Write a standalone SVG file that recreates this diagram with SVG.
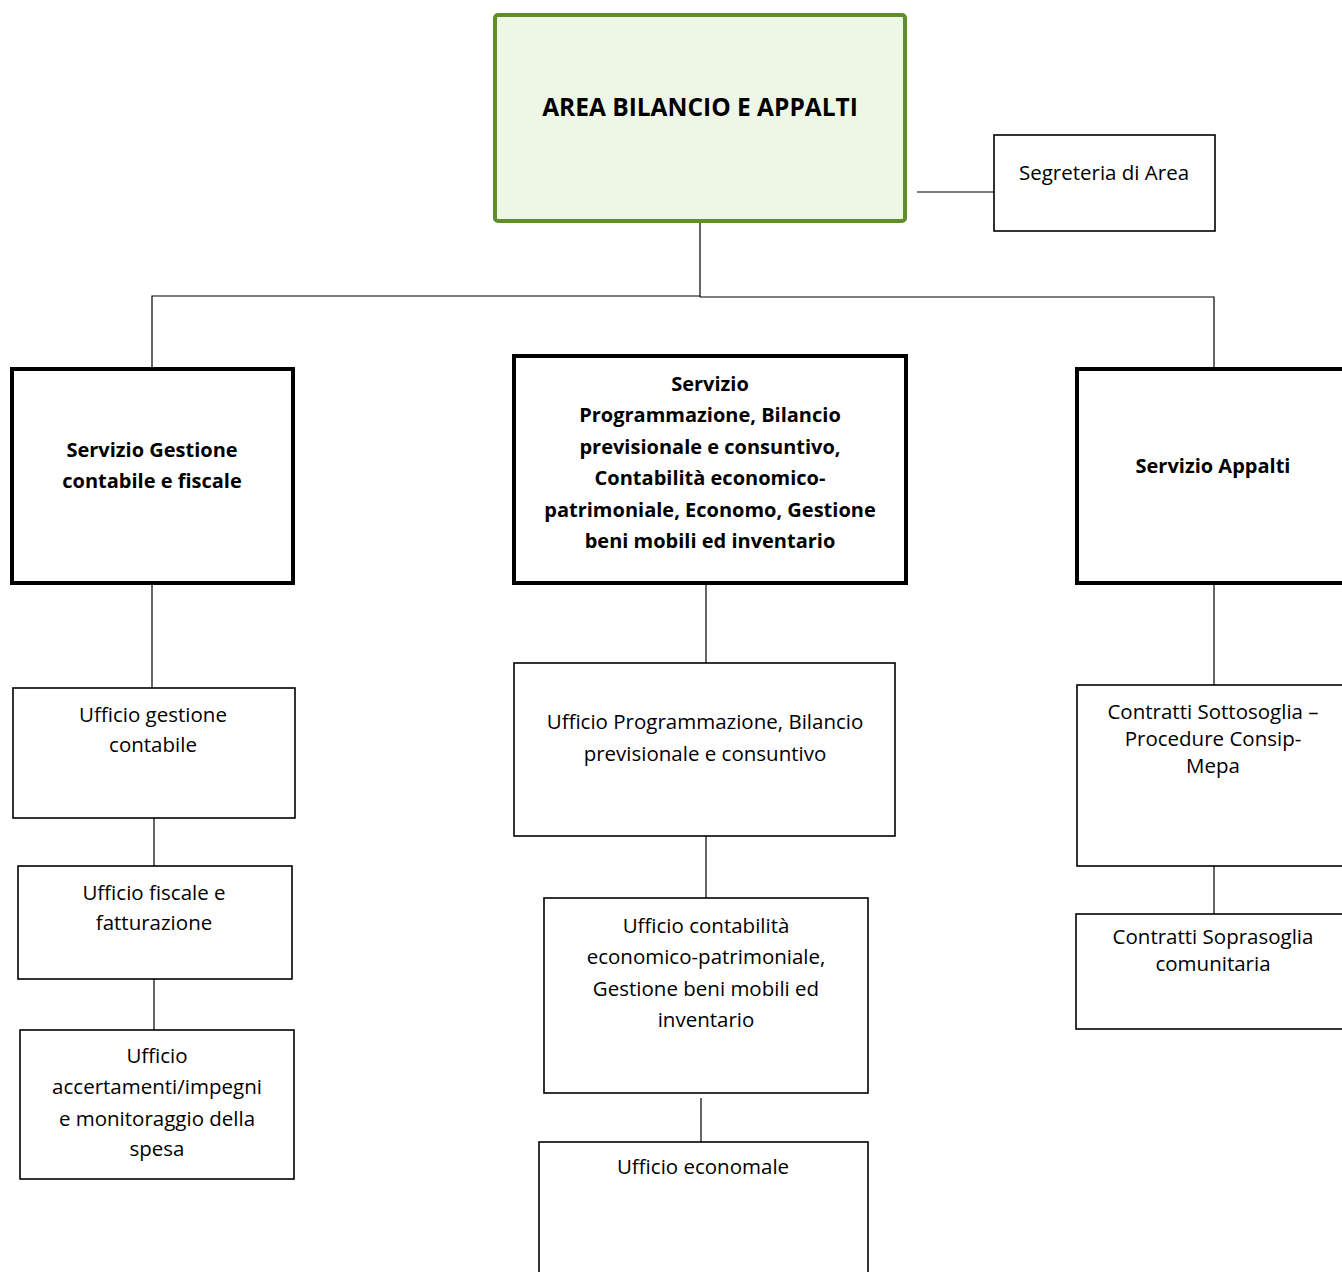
<svg xmlns="http://www.w3.org/2000/svg" width="1342" height="1272" viewBox="0 0 1342 1272">
  <style>
    .bg { fill: #ffffff; }
    .area { fill: #eef7e6; stroke: #5f8f2c; stroke-width: 4; }
    .svc { fill: #ffffff; stroke: #000000; stroke-width: 4; }
    .off { fill: #ffffff; stroke: #000000; stroke-width: 1.6; }
    .wire { fill: none; stroke: #000000; stroke-width: 1.2; }
    text { font-family: "Open Sans", "Liberation Sans", sans-serif; fill: #000000; text-anchor: middle; }
    .t { font-size: 20.5px; }
    .b { font-size: 20px; font-weight: bold; }
    .title { font-size: 24.5px; font-weight: bold; }
  </style>
  <rect class="bg" x="0" y="0" width="1342" height="1272"/>

  <!-- connectors -->
  <g id="connectors">
    <path class="wire" d="M700 223 V297"/>
    <path class="wire" d="M152 368 V296 H700 M700 297 H1214 V368"/>
    <path class="wire" d="M917 192 H994"/>
    <path class="wire" d="M152 585 V688"/>
    <path class="wire" d="M154 818 V866"/>
    <path class="wire" d="M154 979 V1030"/>
    <path class="wire" d="M706 585 V663"/>
    <path class="wire" d="M706 836 V898"/>
    <path class="wire" d="M701 1098 V1142"/>
    <path class="wire" d="M1214 585 V685"/>
    <path class="wire" d="M1214 866 V914"/>
  </g>

  <!-- top level -->
  <g id="area">
    <rect class="area" x="495" y="15" width="410" height="206" rx="3"/>
    <text class="title" x="700" y="116">AREA BILANCIO E APPALTI</text>
  </g>

  <g id="segreteria">
    <rect class="off" x="994" y="135" width="221" height="96"/>
    <text class="t" x="1104" y="180">Segreteria di Area</text>
  </g>

  <!-- services -->
  <g id="svc-gestione">
    <rect class="svc" x="12" y="369" width="281" height="214"/>
    <text class="b" x="152" y="457">Servizio Gestione</text>
    <text class="b" x="152" y="488">contabile e fiscale</text>
  </g>

  <g id="svc-programmazione">
    <rect class="svc" x="514" y="356" width="392" height="227"/>
    <text class="b" x="710" y="391">Servizio</text>
    <text class="b" x="710" y="422">Programmazione, Bilancio</text>
    <text class="b" x="710" y="454">previsionale e consuntivo,</text>
    <text class="b" x="710" y="485">Contabilità economico-</text>
    <text class="b" x="710" y="517">patrimoniale, Economo, Gestione</text>
    <text class="b" x="710" y="548">beni mobili ed inventario</text>
  </g>

  <g id="svc-appalti">
    <rect class="svc" x="1077" y="369" width="280" height="214"/>
    <text class="b" x="1213" y="473">Servizio Appalti</text>
  </g>

  <!-- offices: left column -->
  <g id="uff-gestione-contabile">
    <rect class="off" x="13" y="688" width="282" height="130"/>
    <text class="t" x="153" y="722">Ufficio gestione</text>
    <text class="t" x="153" y="752">contabile</text>
  </g>

  <g id="uff-fiscale">
    <rect class="off" x="18" y="866" width="274" height="113"/>
    <text class="t" x="154" y="900">Ufficio fiscale e</text>
    <text class="t" x="154" y="930">fatturazione</text>
  </g>

  <g id="uff-accertamenti">
    <rect class="off" x="20" y="1030" width="274" height="149"/>
    <text class="t" x="157" y="1063">Ufficio</text>
    <text class="t" x="157" y="1094">accertamenti/impegni</text>
    <text class="t" x="157" y="1126">e monitoraggio della</text>
    <text class="t" x="157" y="1156">spesa</text>
  </g>

  <!-- offices: middle column -->
  <g id="uff-programmazione">
    <rect class="off" x="514" y="663" width="381" height="173"/>
    <text class="t" x="705" y="729">Ufficio Programmazione, Bilancio</text>
    <text class="t" x="705" y="761">previsionale e consuntivo</text>
  </g>

  <g id="uff-contabilita">
    <rect class="off" x="544" y="898" width="324" height="195"/>
    <text class="t" x="706" y="933">Ufficio contabilità</text>
    <text class="t" x="706" y="964">economico-patrimoniale,</text>
    <text class="t" x="706" y="996">Gestione beni mobili ed</text>
    <text class="t" x="706" y="1027">inventario</text>
  </g>

  <g id="uff-economale">
    <rect class="off" x="539" y="1142" width="329" height="150"/>
    <text class="t" x="703" y="1174">Ufficio economale</text>
  </g>

  <!-- offices: right column -->
  <g id="contratti-sottosoglia">
    <rect class="off" x="1077" y="685" width="280" height="181"/>
    <text class="t" x="1213" y="719">Contratti Sottosoglia –</text>
    <text class="t" x="1213" y="746">Procedure Consip-</text>
    <text class="t" x="1213" y="773">Mepa</text>
  </g>

  <g id="contratti-soprasoglia">
    <rect class="off" x="1076" y="914" width="280" height="115"/>
    <text class="t" x="1213" y="944">Contratti Soprasoglia</text>
    <text class="t" x="1213" y="971">comunitaria</text>
  </g>
</svg>
